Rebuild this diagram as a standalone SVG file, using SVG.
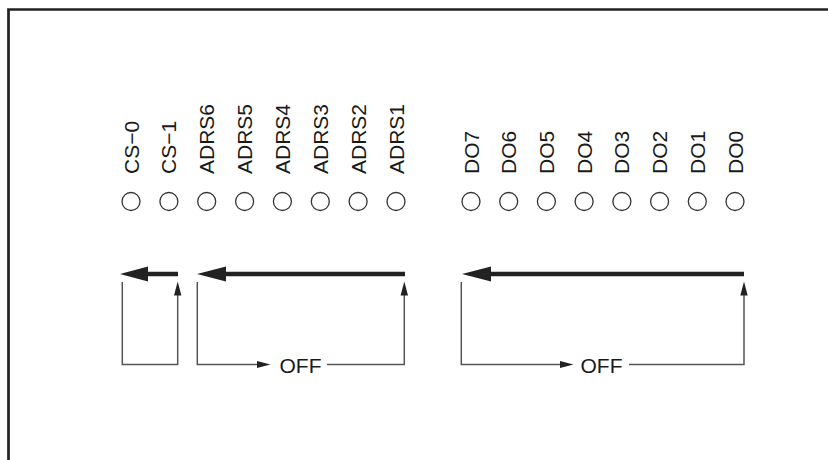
<svg xmlns="http://www.w3.org/2000/svg" width="828" height="460" viewBox="0 0 828 460">
<style>
.lbl{font-family:"Liberation Sans",Arial,sans-serif;font-size:21px;fill:#1a1a1a}
.led{fill:#fff;stroke:#333;stroke-width:1.3}
.thin{fill:none;stroke:#555;stroke-width:1.5}
.thick{fill:none;stroke:#222;stroke-width:4.5}
.head{fill:#222}
</style>
<rect x="0" y="0" width="828" height="460" fill="#fff"/>
<path d="M8.5 460 V9.5 H828" fill="none" stroke="#222" stroke-width="2.7"/>
<g id="leds">
<g id="cs0"><circle class="led" cx="131" cy="201.5" r="9"/><text class="lbl" transform="translate(138.5,174) rotate(-90)">CS−0</text></g>
<g id="cs1"><circle class="led" cx="168.9" cy="201.5" r="9"/><text class="lbl" transform="translate(176.4,174) rotate(-90)">CS−1</text></g>
<g id="adrs6"><circle class="led" cx="206.7" cy="201.5" r="9"/><text class="lbl" transform="translate(214.2,174) rotate(-90)">ADRS6</text></g>
<g id="adrs5"><circle class="led" cx="244.6" cy="201.5" r="9"/><text class="lbl" transform="translate(252.1,174) rotate(-90)">ADRS5</text></g>
<g id="adrs4"><circle class="led" cx="282.4" cy="201.5" r="9"/><text class="lbl" transform="translate(289.9,174) rotate(-90)">ADRS4</text></g>
<g id="adrs3"><circle class="led" cx="320.3" cy="201.5" r="9"/><text class="lbl" transform="translate(327.8,174) rotate(-90)">ADRS3</text></g>
<g id="adrs2"><circle class="led" cx="358.1" cy="201.5" r="9"/><text class="lbl" transform="translate(365.6,174) rotate(-90)">ADRS2</text></g>
<g id="adrs1"><circle class="led" cx="396" cy="201.5" r="9"/><text class="lbl" transform="translate(403.5,174) rotate(-90)">ADRS1</text></g>
<g id="do7"><circle class="led" cx="471" cy="201.5" r="9"/><text class="lbl" transform="translate(478.5,174) rotate(-90)">DO7</text></g>
<g id="do6"><circle class="led" cx="508.7" cy="201.5" r="9"/><text class="lbl" transform="translate(516.2,174) rotate(-90)">DO6</text></g>
<g id="do5"><circle class="led" cx="546.4" cy="201.5" r="9"/><text class="lbl" transform="translate(553.9,174) rotate(-90)">DO5</text></g>
<g id="do4"><circle class="led" cx="584.1" cy="201.5" r="9"/><text class="lbl" transform="translate(591.6,174) rotate(-90)">DO4</text></g>
<g id="do3"><circle class="led" cx="621.9" cy="201.5" r="9"/><text class="lbl" transform="translate(629.4,174) rotate(-90)">DO3</text></g>
<g id="do2"><circle class="led" cx="659.6" cy="201.5" r="9"/><text class="lbl" transform="translate(667.1,174) rotate(-90)">DO2</text></g>
<g id="do1"><circle class="led" cx="697.3" cy="201.5" r="9"/><text class="lbl" transform="translate(704.8,174) rotate(-90)">DO1</text></g>
<g id="do0"><circle class="led" cx="735" cy="201.5" r="9"/><text class="lbl" transform="translate(742.5,174) rotate(-90)">DO0</text></g>
</g>
<g id="connectors">
<path class="thick" d="M178 274 H146"/>
<path class="head" d="M120 274 L148 266.5 L148 281.5 Z"/>
<path class="thick" d="M405 274 H224"/>
<path class="head" d="M197 274 L226 266.5 L226 281.5 Z"/>
<path class="thick" d="M744 274 H489"/>
<path class="head" d="M462 274 L491 266.5 L491 281.5 Z"/>
<path class="thin" d="M122.3 282 V364.5 H177.7 V294"/>
<path class="head" d="M177.7 281.5 L174 295.5 L181.4 295.5 Z"/>
<path class="thin" d="M197.3 282 V364.5 H258"/>
<path class="head" d="M270.5 364.5 L257 361 L257 368 Z"/>
<path class="thin" d="M327 364.5 H404.3 V294"/>
<path class="head" d="M404.3 281.5 L400.6 295.5 L408 295.5 Z"/>
<text class="lbl" x="279.5" y="372.5">OFF</text>
<path class="thin" d="M461.3 282 V364.5 H561"/>
<path class="head" d="M573.5 364.5 L560 361 L560 368 Z"/>
<path class="thin" d="M629 364.5 H744 V294"/>
<path class="head" d="M744 281.5 L740.3 295.5 L747.7 295.5 Z"/>
<text class="lbl" x="580.5" y="372.5">OFF</text>
</g>
</svg>
